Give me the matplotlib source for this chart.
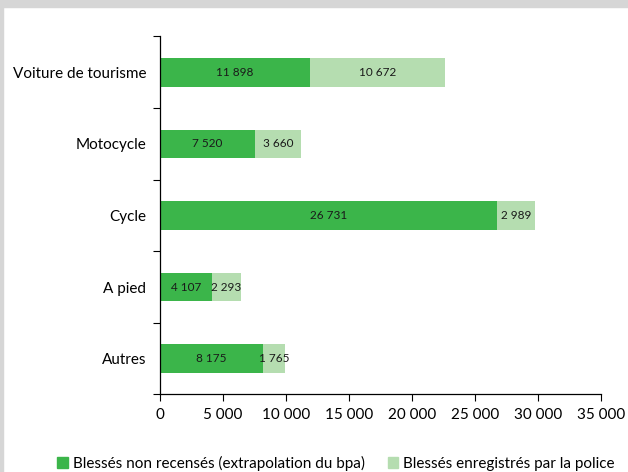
import matplotlib.pyplot as plt
from matplotlib.patches import Rectangle, Patch

categories = ['Voiture de tourisme', 'Motocycle', 'Cycle', 'A pied', 'Autres']
non_recenses = [11898, 7520, 26731, 4107, 8175]
police = [10672, 3660, 2989, 2293, 1765]
xticks = [0, 5000, 10000, 15000, 20000, 25000, 30000, 35000]

dark = '#3bb54a'
light = '#b5ddb0'
plt.rcParams['font.family'] = ['Lato', 'DejaVu Sans']


def fmt(v):
    return f'{v:,}'.replace(',', ' ')


fig = plt.figure(figsize=(6.28, 4.72), dpi=100)
ax = fig.add_axes([0.2548, 0.1642, 0.703, 0.7585])

# grey frame along top and left edge
fig.patches.append(Rectangle((0, 1 - 7 / 472), 1, 7 / 472, transform=fig.transFigure,
                             color='#d6d6d6', zorder=0))
fig.patches.append(Rectangle((0, 0), 3 / 628, 1, transform=fig.transFigure,
                             color='#d6d6d6', zorder=0))

y = list(range(len(categories)))
ax.barh(y, non_recenses, height=0.4, color=dark)
ax.barh(y, police, left=non_recenses, height=0.4, color=light)

for i in y:
    ax.text(non_recenses[i] / 2, i, fmt(non_recenses[i]), ha='center', va='center',
            fontsize=8.5, color='#1a1a1a')
    ax.text(non_recenses[i] + police[i] / 2, i, fmt(police[i]), ha='center', va='center',
            fontsize=8.5, color='#1a1a1a')

ax.set_xlim(0, 35000)
ax.set_ylim(len(categories) - 0.5, -0.5)
ax.set_xticks(xticks)
ax.set_xticklabels([fmt(v) for v in xticks], fontsize=11)
ax.set_yticks(y)
ax.set_yticklabels(categories, fontsize=11)
ax.tick_params(axis='y', length=0, pad=10)
ax.set_yticks([i - 0.5 for i in range(len(categories) + 1)], minor=True)
ax.tick_params(axis='y', which='minor', length=5, width=0.8, direction='out')
ax.tick_params(axis='x', length=5, width=0.8, pad=5)

for s in ['top', 'right']:
    ax.spines[s].set_visible(False)
for s in ['left', 'bottom']:
    ax.spines[s].set_linewidth(0.9)

handles = [Patch(color=dark, label='Blessés non recensés (extrapolation du bpa)'),
           Patch(color=light, label='Blessés enregistrés par la police')]
fig.legend(handles=handles, loc='center', bbox_to_anchor=(0.535, 0.018), ncol=2,
           frameon=False, fontsize=11, handlelength=0.7, handleheight=0.7,
           handletextpad=0.3, columnspacing=1.5)

fig.savefig('out.png', dpi=100)
